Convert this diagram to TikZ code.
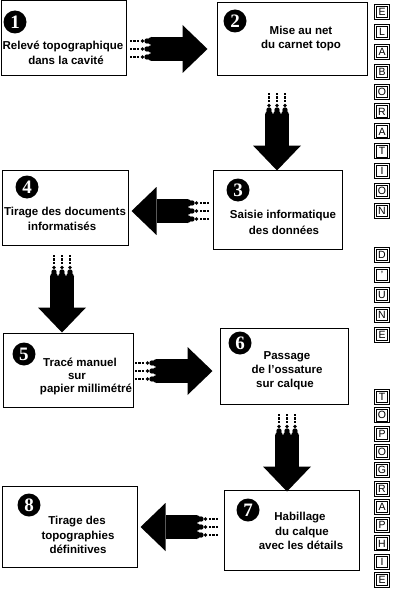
\documentclass[tikz,border=0pt]{standalone}
\usepackage{fontspec}
\setmainfont{Liberation Sans}
\newfontfamily\numfont{Liberation Serif}
\usetikzlibrary{calc}
\tikzset{
  box/.style={draw, line width=1, inner sep=0, rectangle},
  badge/.style={circle, fill=black, text=white, inner sep=0, minimum size=23,
    font=\numfont\bfseries\fontsize{19}{19}\selectfont},
  txt/.style={inner sep=0, font=\bfseries\fontsize{11.5}{13}\selectfont},
  keycap/.style={draw, line width=1, minimum width=15pt, minimum height=15pt,
    inner sep=0, font=\fontsize{10.5}{11}\selectfont,
    path picture={\draw[line width=0.8]
      ([xshift=1.9pt,yshift=1.9pt]path picture bounding box.south west) rectangle
      ([xshift=-1.9pt,yshift=-1.9pt]path picture bounding box.north east);}},
  blockarr/.pic={
    \foreach \v in {-8,0,8}{
      \foreach \u in {0.5,4,7.5}{\fill ({\u-1.1},{\v-1.1}) rectangle ({\u+1.1},{\v+1.1});}
      \fill (12,\v) circle (1.9);
      \fill (16.5,\v) circle (2.7);
      \fill (21,\v) circle (4);
    }
    \fill (21,-12) rectangle (52,12);
    \fill (52,-24) -- (77,0) -- (52,24) -- cycle;
  }
}
\begin{document}
\begin{tikzpicture}[x=1pt,y=-1pt]
\fill[white] (0,0) rectangle (400,591);
\useasboundingbox (0,0) rectangle (400,591);

% boxes
\node[box, minimum width=125, minimum height=75] (b1) at (63.5,38.5) {};
\node[box, minimum width=150, minimum height=73] (b2) at (292,39.5) {};
\node[box, minimum width=129, minimum height=79] (b3) at (277.5,209.5) {};
\node[box, minimum width=126, minimum height=75] (b4) at (65,207.5) {};
\node[box, minimum width=130, minimum height=74] (b5) at (68,370) {};
\node[box, minimum width=128, minimum height=76] (b6) at (284,366) {};
\node[box, minimum width=135, minimum height=80] (b7) at (291.5,530) {};
\node[box, minimum width=135, minimum height=81] (b8) at (69.5,526.5) {};

% badges
\node[badge] (n1) at (15,22) {1};
\node[badge] (n2) at (235,21) {2};
\node[badge] (n3) at (238,190) {3};
\node[badge] (n4) at (27,187) {4};
\node[badge] (n5) at (24,354) {5};
\node[badge] (n6) at (240,343) {6};
\node[badge] (n7) at (248,510) {7};
\node[badge] (n8) at (29,505) {8};

% texts
\node[txt] (t1a) at (63,47) {\strut Relevé topographique};
\node[txt] (t1b) at (66,62) {\strut dans la cavité};
\node[txt] (t2a) at (301,32) {\strut Mise au net};
\node[txt] (t2b) at (301,46) {\strut du carnet topo};
\node[txt] (t3a) at (283,216) {\strut Saisie informatique};
\node[txt] (t3b) at (284,232) {\strut des données};
\node[txt] (t4a) at (65,213) {\strut Tirage des documents};
\node[txt] (t4b) at (62,228) {\strut informatisés};
\node[txt] (t5a) at (80,364) {\strut Tracé manuel};
\node[txt] (t5b) at (77,377) {\strut sur};
\node[txt] (t5c) at (86,390) {\strut papier millimétré};
\node[txt] (t6a) at (287,357) {\strut Passage};
\node[txt] (t6b) at (287,371) {\strut de l'ossature};
\node[txt] (t6c) at (285,385) {\strut sur calque};
\node[txt] (t7a) at (300,518) {\strut Habillage};
\node[txt] (t7b) at (302,533) {\strut du calque};
\node[txt] (t7c) at (301,547) {\strut avec les détails};
\node[txt] (t8a) at (77,522) {\strut Tirage des};
\node[txt] (t8b) at (78,537) {\strut topographies};
\node[txt] (t8c) at (78,551) {\strut définitives};

% block arrows
\coordinate (a12) at ($(b1.east)+(4,10.5)$);
\coordinate (a23) at ($(b2.south)+(-15,17)$);
\coordinate (a34) at ($(b3.west)+(-4,1.5)$);
\coordinate (a45) at ($(b4.south)+(-3,10)$);
\coordinate (a56) at ($(b5.east)+(2,1)$);
\coordinate (a67) at ($(b6.south)+(3,10)$);
\coordinate (a78) at ($(b7.west)+(-6,-3)$);
\pic at (a12) {blockarr};
\pic[rotate=-90] at (a23) {blockarr};
\pic[xscale=-1] at (a34) {blockarr};
\pic[rotate=-90] at (a45) {blockarr};
\pic at (a56) {blockarr};
\pic[rotate=-90] at (a67) {blockarr};
\pic[xscale=-1] at (a78) {blockarr};

% letter column
\foreach \l [count=\i from 0] in {E,L,A,B,O,R,A,T,I,O,N}
  \node[keycap] (ka\i) at (382,{12+19.9*\i}) {\l};
\foreach \l [count=\i from 0] in {D,',U,N,E}
  \node[keycap] (kb\i) at (382,{255+20*\i}) {\l};
\foreach \l [count=\i from 0] in {T,O,P,O,G,R,A,P,H,I,E}
  \node[keycap] (kc\i) at (382,{397+18.3*\i}) {\l};
\end{tikzpicture}
\end{document}
